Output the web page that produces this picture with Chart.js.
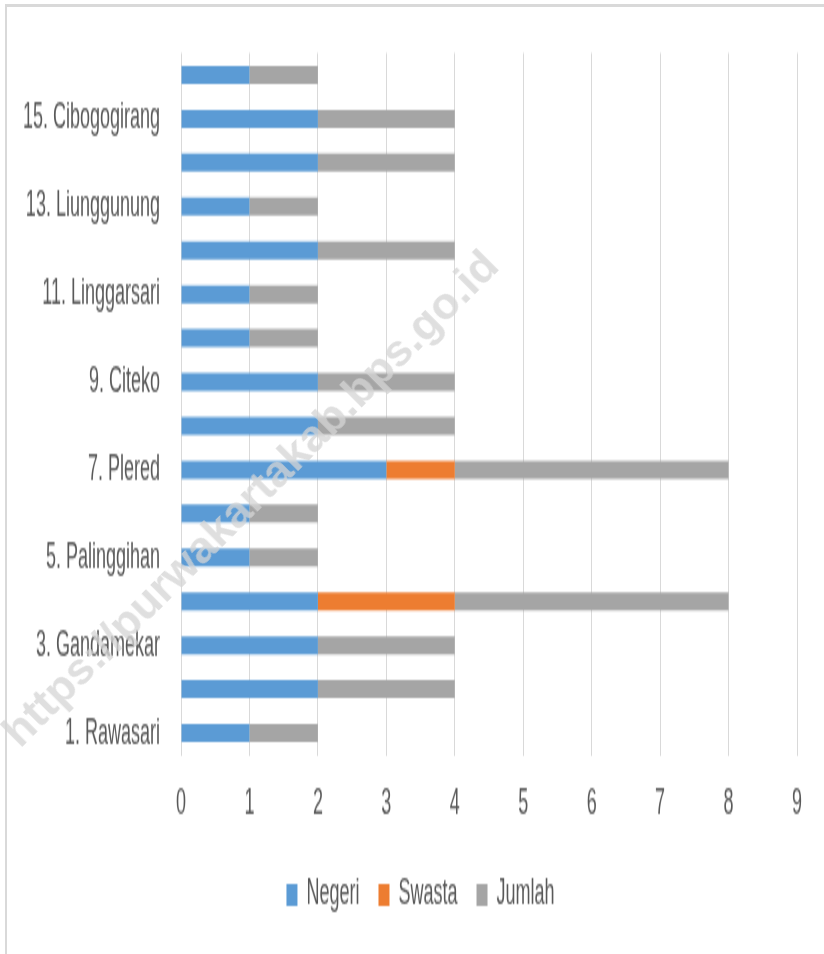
<!DOCTYPE html>
<html>
<head>
<meta charset="utf-8">
<script src="https://cdn.jsdelivr.net/npm/chart.js@4.4.1/dist/chart.umd.min.js"></script>
<style>
	body { margin: 0; background: #fff; }
	#wrap { position: relative; width: 824px; height: 954px; overflow: hidden; }
	.frame-top { position: absolute; left: 5px; top: 4px; width: 819px; height: 3px; background: #d9d9d9; }
	.frame-left { position: absolute; left: 5px; top: 4px; width: 2px; height: 950px; background: #d9d9d9; }
	.watermark {
		position: absolute; left: 250px; top: 498px;
		transform: translate(-50%, -50%) rotate(-45deg);
		font-family: "Liberation Sans", Arial, sans-serif; font-weight: bold; font-size: 45px;
		color: rgba(212, 212, 212, 0.75); white-space: nowrap; pointer-events: none;
	}
</style>
</head>
<body>
<div id="wrap">
	<div class="frame-top"></div>
	<div class="frame-left"></div>
	<!-- canvas is drawn at half height and stretched, like the original image -->
	<canvas id="chart" width="824" height="477" style="position:absolute;left:0;top:0;width:824px;height:954px"></canvas>
	<div class="watermark">https://purwakartakab.bps.go.id</div>
</div>
<script>
// desa, dari bawah ke atas (yang genap tidak tampil di sumbu)
const categories = [
	"1. Rawasari", "2.", "3. Gandamekar", "4.", "5. Palinggihan", "6.",
	"7. Plered", "8.", "9. Citeko", "10.", "11. Linggarsari", "12.",
	"13. Liunggunung", "14.", "15. Cibogogirang", "16."
];
const negeri = [1, 2, 2, 2, 1, 1, 3, 2, 2, 1, 1, 2, 1, 2, 2, 1];
const swasta = [0, 0, 0, 2, 0, 0, 1, 0, 0, 0, 0, 0, 0, 0, 0, 0];
const jumlah = [1, 2, 2, 4, 1, 1, 4, 2, 2, 1, 1, 2, 1, 2, 2, 1];
const xTicks = [0, 1, 2, 3, 4, 5, 6, 7, 8, 9];

const font = "'Liberation Sans', Arial, sans-serif";
const textColor = "#595959";

// legend sits a bit right of centre in the original
const shiftLegend = {
	id: "shiftLegend",
	afterLayout(chart) {
		chart.legend.left += 38;
	},
};

new Chart(document.getElementById("chart"), {
	type: "bar",
	data: {
		labels: categories,
		datasets: [
			{ label: "Negeri", data: negeri, backgroundColor: "#5b9bd5" },
			{ label: "Swasta", data: swasta, backgroundColor: "#ed7d31" },
			{ label: "Jumlah", data: jumlah, backgroundColor: "#a5a5a5" },
		],
	},
	plugins: [shiftLegend],
	options: {
		indexAxis: "y",
		responsive: false,
		animation: false,
		barPercentage: 0.41,
		categoryPercentage: 1,
		layout: { padding: { left: 6, right: 27, top: 26.5, bottom: 10.5 } },
		scales: {
			x: {
				stacked: true,
				min: xTicks[0],
				max: xTicks[xTicks.length - 1],
				afterBuildTicks: (scale) => {
					scale.ticks = xTicks.map((v) => ({ value: v }));
				},
				afterFit: (scale) => {
					scale.height = 42;
				},
				grid: { color: "#d9d9d9", drawTicks: false },
				border: { display: false },
				ticks: { color: textColor, font: { family: font, size: 18 }, padding: 14 },
			},
			y: {
				stacked: true,
				reverse: true,
				afterFit: (scale) => {
					scale.width = 175;
					scale.paddingTop = 0;
					scale.paddingBottom = 0;
				},
				grid: { display: false },
				border: { display: false },
				ticks: {
					autoSkip: false,
					color: textColor,
					font: { family: font, size: 18 },
					padding: 13,
					callback: function (value, index) {
						return index % 2 === 0 ? this.getLabelForValue(value) : "";
					},
				},
			},
		},
		plugins: {
			legend: {
				position: "bottom",
				labels: {
					color: textColor,
					font: { family: font, size: 18 },
					boxWidth: 11,
					boxHeight: 11,
					padding: 19,
				},
			},
			tooltip: { enabled: false },
		},
	},
});
</script>
</body>
</html>
